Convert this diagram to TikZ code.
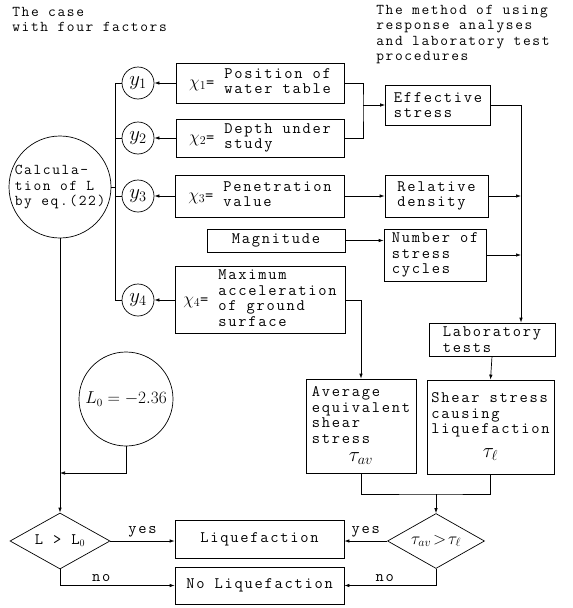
\documentclass[tikz,border=0pt]{standalone}
\usepackage{fontspec}
\setmonofont{Latin Modern Mono}[LetterSpace=11]
\usetikzlibrary{arrows.meta,shapes.geometric}

% handwritten symbols at a given size
\newcommand\hw[2]{{\fontsize{#1}{#1}\selectfont$#2$}}

\begin{document}
\begin{tikzpicture}[x=1pt, y=-1pt, >={Latex[length=5pt,width=3.5pt]}, line width=0.7pt,
    every node/.style={font=\fontsize{16}{15.5}\selectfont\ttfamily},
    small/.style={font=\fontsize{15}{15.3}\selectfont\ttfamily},
    box/.style={draw, inner sep=2pt, align=left},
    ycirc/.style={draw, circle, minimum size=32pt, inner sep=0pt},
    test/.style={draw, diamond, aspect=1.8, inner sep=0pt}]

    \useasboundingbox (0,0) rectangle (573,608);

    % Titles
    \node[small, anchor=north west, align=left, inner sep=0pt] (hleft) at (12,7) {The case\\with four factors};
    \node[small, anchor=north west, align=left, inner sep=0pt] (hright) at (376,5) {The method of using\\response analyses\\and laboratory test\\procedures};

    % Factors
    \node[box, minimum width=168pt, minimum height=40pt] (x1) at (260,83) {\hw{17}{\chi_1}= \begin{tabular}[c]{@{}l@{}}Position of\\water table\end{tabular}};
    \node[box, minimum width=168pt, minimum height=38pt] (x2) at (260,138) {\hw{17}{\chi_2}= \begin{tabular}[c]{@{}l@{}}Depth under\\study\end{tabular}};
    \node[box, minimum width=169pt, minimum height=42pt] (x3) at (260,196) {\hw{17}{\chi_3}= \begin{tabular}[c]{@{}l@{}}Penetration\\value\end{tabular}};
    \node[box, minimum width=138pt, minimum height=23pt] (mag) at (276,240.5) {Magnitude};
    \node[box, minimum width=170pt, minimum height=67pt] (x4) at (260,300) {\hw{17}{\chi_4}= \begin{tabular}[c]{@{}l@{}}Maximum\\acceleration\\of ground\\surface\end{tabular}};

    % y circles and the big circle
    \node[ycirc] (y1) at (138,83) {\hw{20}{y_1}};
    \node[ycirc] (y2) at (138,138) {\hw{20}{y_2}};
    \node[ycirc] (y3) at (138,196) {\hw{20}{y_3}};
    \node[ycirc] (y4) at (138,300) {\hw{20}{y_4}};
    \node[draw, circle, minimum size=102pt, inner sep=0pt,
          label={[small]center:{\begin{tabular}{@{}l@{}}Calcula-\\tion of L\\by eq.(22)\end{tabular}}}] (calc) at (60,187) {};
    \node[draw, circle, minimum size=94pt, inner sep=0pt] (lzero) at (126,399) {\hw{16}{L_0 ={-}2.36}};

    % Response analyses and laboratory tests
    \node[box, minimum width=105pt, minimum height=40pt] (eff) at (438,105) {Effective\\stress};
    \node[box, minimum width=103pt, minimum height=42pt] (rel) at (436.5,196) {Relative\\density};
    \node[box, minimum width=102pt, minimum height=52pt] (cyc) at (435,255) {Number of\\stress\\cycles};
    \node[box, minimum width=126pt, minimum height=33pt] (lab) at (492,339.5) {Laboratory\\tests};
    \node[box, minimum width=110pt, minimum height=94pt] (avg) at (361,426) {\begin{tabular}{@{}l@{}}Average\\equivalent\\shear\\stress\\[3pt]\multicolumn{1}{@{}c@{}}{\hw{20}{\tau_{av}}}\end{tabular}};
    \node[box, minimum width=127pt, minimum height=94pt] (shear) at (490.5,427) {\begin{tabular}{@{}l@{}}Shear stress\\causing\\liquefaction\\[8pt]\multicolumn{1}{@{}c@{}}{\hw{20}{\tau_\ell}}\end{tabular}};

    % Decisions and results
    \node[test, minimum width=100pt, minimum height=56pt] (lcomp) at (60,541) {L > L\hw{14}{_0}};
    \node[test, minimum width=97pt, minimum height=55pt] (tcomp) at (436,541) {\hw{17}{\tau_{av}\!>\!\tau_\ell}};
    \node[box, minimum width=169pt, minimum height=38pt] (liq) at (259.5,539) {Liquefaction};
    \node[box, minimum width=169pt, minimum height=37pt] (noliq) at (259.5,585.5) {No Liquefaction};

    % Junction points
    \coordinate (bus) at (115,0);
    \coordinate (m12) at (363,105);
    \coordinate (bus2) at (521,0);
    \coordinate (jn) at (436,494);
    \coordinate (lj) at (60,473);

    % Factors to y circles
    \draw[->] (x1.west) -- (y1.east);
    \draw[->] (x2.west) -- (y2.east);
    \draw[->] (x3.west) -- (y3.east);
    \draw[->] (x4.west) -- (y4.east);
    \draw (y1.west) -| (bus |- y4.west) -- (y4.west);
    \draw (y2.west) -- (y2.west -| bus);
    \draw (y3.west) -- (y3.west -| bus);
    \draw (calc.east) -- (calc.east -| bus);

    % Right hand chain
    \draw (x1.east) -| (m12) |- (x2.east);
    \draw[->] (m12) -- (eff.west);
    \draw[->] (x3.east) -- (rel.west);
    \draw[->] (mag.east) -- (mag.east -| cyc.west);
    \draw[->] (eff.east) -| (bus2 |- lab.north);
    \draw[->] (rel.east) -- (rel.east -| bus2);
    \draw[->] (cyc.east) -- (cyc.east -| bus2);
    \draw[->] (lab.south) -- (shear.north);
    \draw[->] (x4.east) -| (avg.north);
    \draw (avg.south) |- (jn) -| (shear.south);
    \draw[->] (jn) -- (tcomp.north);

    % Left hand chain
    \draw[->] (calc.south) -- (lcomp.north);
    \draw[->] (lzero.south) |- (lj);

    % Yes and no
    \draw[->] (lcomp.east) -- (lcomp.east -| liq.west) node[midway, above] {yes};
    \draw[->] (tcomp.west) -- (tcomp.west -| liq.east) node[midway, above] {yes};
    \draw[->] (lcomp.south) |- (noliq.west) node[pos=0.68, above] {no};
    \draw[->] (tcomp.south) |- (noliq.east) node[pos=0.78, above] {no};

\end{tikzpicture}
\end{document}
